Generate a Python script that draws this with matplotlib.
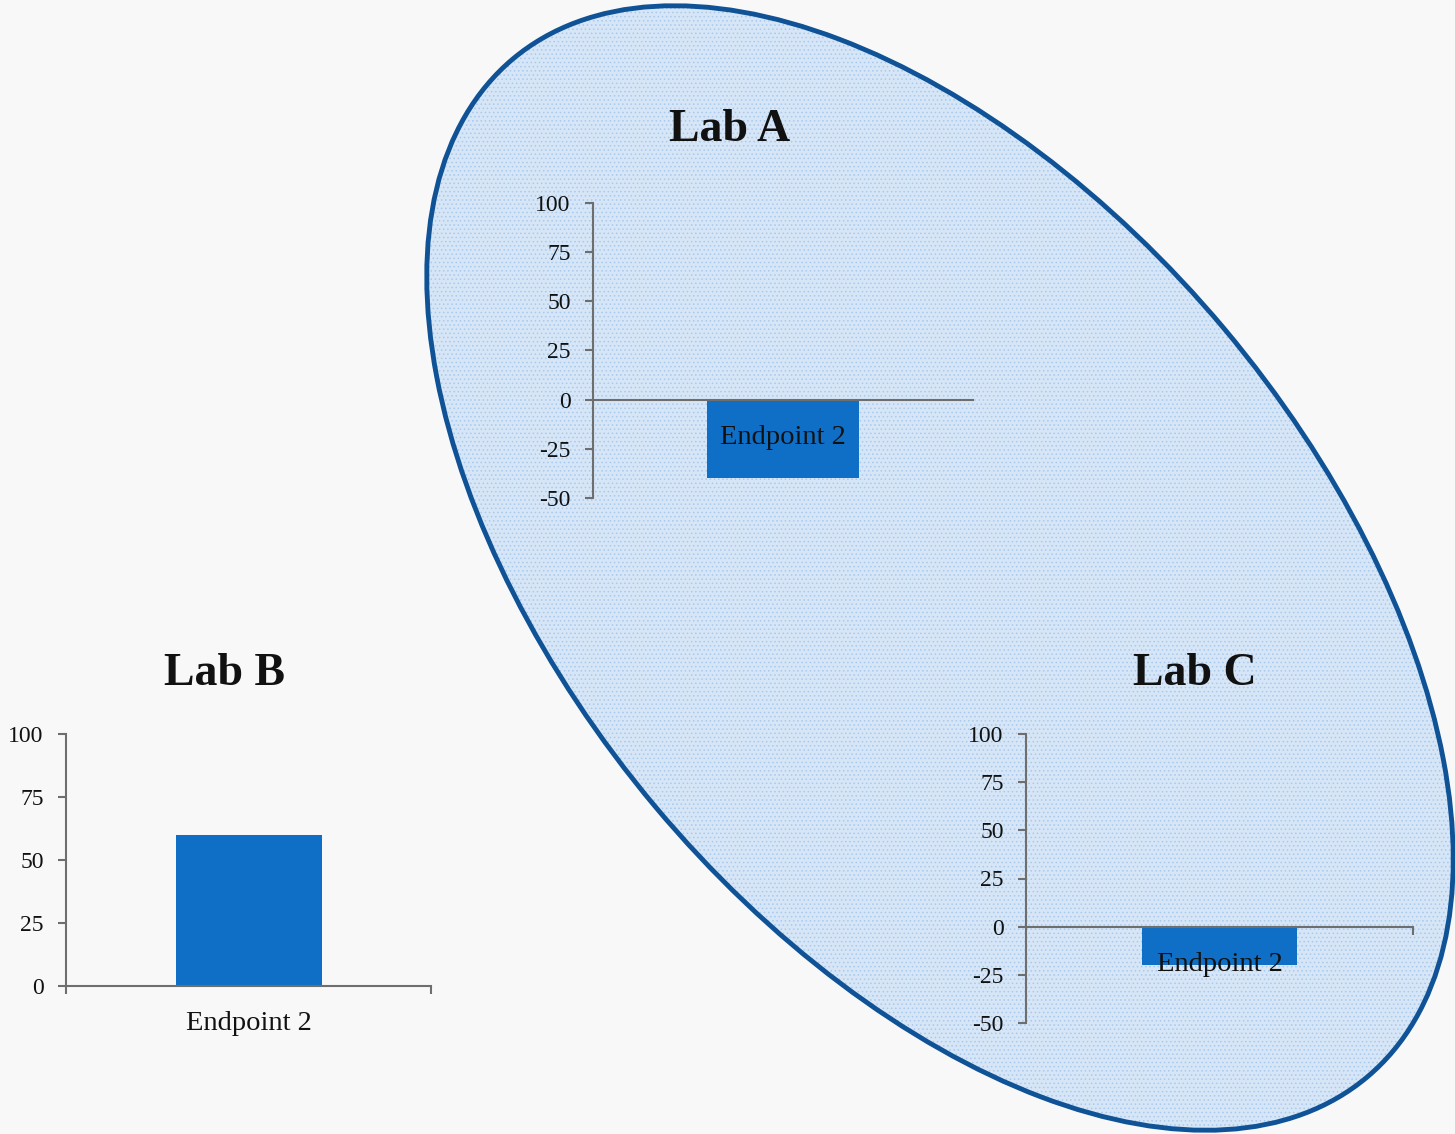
import numpy as np
import matplotlib
matplotlib.use("Agg")
import matplotlib.pyplot as plt
from matplotlib.patches import Ellipse

# data for the three labs
categories = ["Endpoint 2"]
lab_a = [-40]
lab_b = [60]
lab_c = [-20]
ticks_a = [-50, -25, 0, 25, 50, 75, 100]
ticks_b = [0, 25, 50, 75, 100]
ticks_c = [-50, -25, 0, 25, 50, 75, 100]

W, H = 1455, 1134
plt.rcParams['font.family'] = ['Liberation Serif', 'DejaVu Serif']
plt.rcParams['axes.unicode_minus'] = False

fig = plt.figure(figsize=(W / 100, H / 100), dpi=100)
fig.patch.set_facecolor('#f8f8f8')

# background layer in pixel coordinates for the ellipse
bg = fig.add_axes([0, 0, 1, 1])
bg.set_xlim(0, W)
bg.set_ylim(H, 0)
bg.axis('off')
centre = (940, 568)
ew, eh, ang = 1329, 743, 50
bg.add_patch(Ellipse(centre, ew, eh, angle=ang, facecolor='#d6e6f7', edgecolor='none'))
plt.rcParams['hatch.linewidth'] = 0.6
bg.add_patch(Ellipse(centre, ew, eh, angle=ang, fill=False,
                     hatch='....', edgecolor='#a9c9ec', linewidth=0))
bg.add_patch(Ellipse(centre, ew, eh, angle=ang, fill=False,
                     edgecolor='#0f5296', linewidth=3.5))

axis_color = '#6e6e6e'


def bar_panel(left, top, right, bottom, values, yticks, end_ticks):
    ax = fig.add_axes([left / W, 1 - bottom / H, (right - left) / W, (bottom - top) / H])
    ax.patch.set_alpha(0)
    x = np.arange(len(categories))
    ax.bar(x, values, width=0.4, color='#0f6fc6', zorder=1)
    ax.set_xlim(-0.5, 0.5)
    ax.set_ylim(yticks[0], yticks[-1])
    ax.set_yticks(yticks)
    ax.set_xticks(x)
    ax.set_xticklabels(categories)
    ax.set_xticks(end_ticks, minor=True)
    ax.tick_params(axis='x', which='major', length=0, pad=18, labelsize=20.5, labelcolor='#111111')
    ax.tick_params(axis='x', which='minor', length=6, width=1.5, color=axis_color)
    ax.tick_params(axis='y', length=6, width=1.5, color=axis_color, labelsize=17,
                   labelcolor='#111111', pad=10)
    for s in ['top', 'right']:
        ax.spines[s].set_visible(False)
    ax.spines['bottom'].set_position(('data', 0))
    for s in ['left', 'bottom']:
        ax.spines[s].set_color(axis_color)
        ax.spines[s].set_linewidth(1.5)
        ax.spines[s].set_zorder(3)
    return ax


bar_panel(593, 203, 973, 498, lab_a, ticks_a, [])
bar_panel(66, 734, 431, 986, lab_b, ticks_b, [-0.5, 0.5])
bar_panel(1026, 734, 1413, 1023, lab_c, ticks_c, [0.5])

# panel titles
for label, tx, ty in [("Lab A", 730, 130), ("Lab B", 225, 674), ("Lab C", 1195, 674)]:
    fig.text(tx / W, 1 - ty / H, label, fontsize=33, fontweight='bold',
             color='#111111', ha='center', va='center')

plt.savefig("out.png", dpi=100, facecolor=fig.get_facecolor())
